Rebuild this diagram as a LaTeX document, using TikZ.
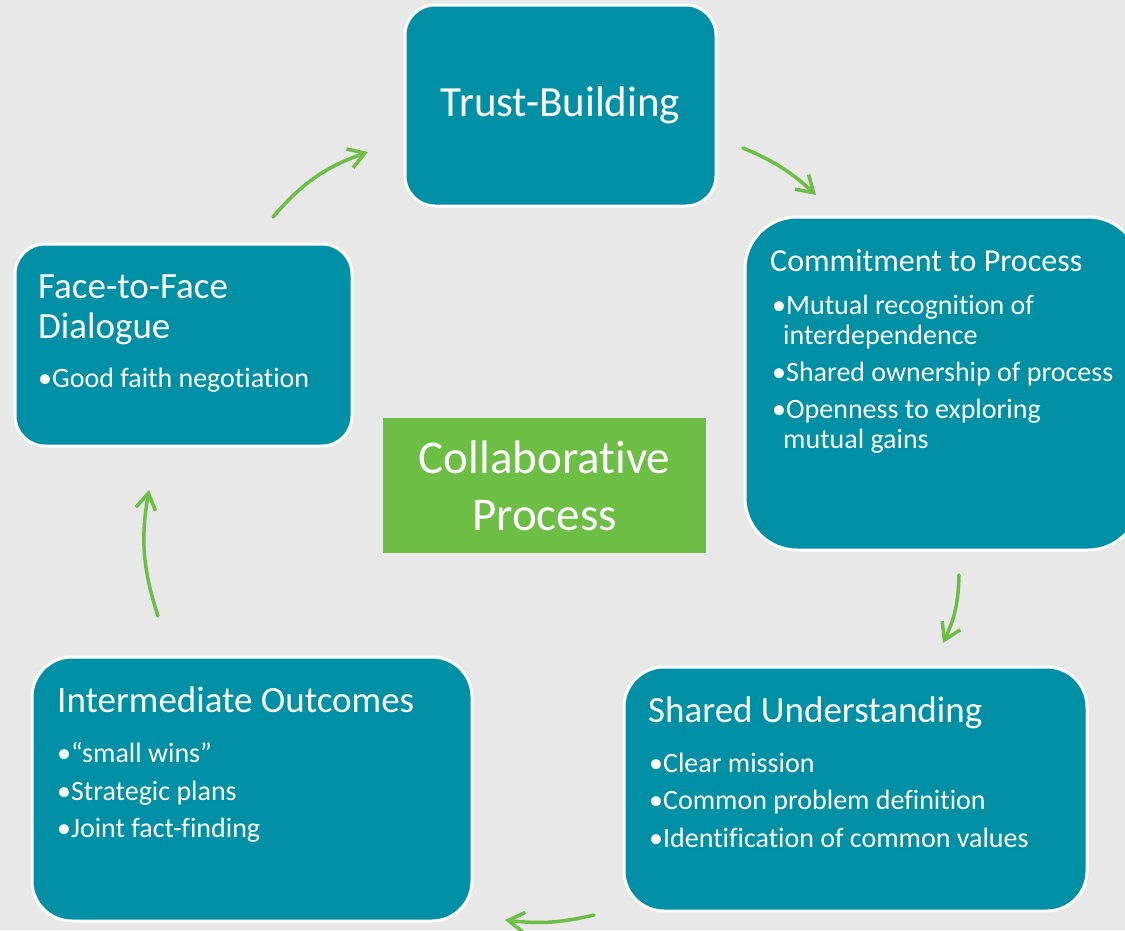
\documentclass[tikz,border=0pt]{standalone}
\usepackage{fontspec}
\setmainfont{Carlito}[Ligatures=NoCommon]
\usetikzlibrary{positioning,calc,arrows.meta}

\definecolor{boxteal}{RGB}{0,144,166}
\definecolor{leafgreen}{RGB}{108,190,69}
\definecolor{slide}{RGB}{232,232,232}

\begin{document}
\begin{tikzpicture}[x=1pt, y=-1pt,
	stage/.style={rectangle, draw=white, line width=3pt, fill=boxteal, text=white, rounded corners=#1},
	stage/.default=30pt,
	head/.style={anchor=base west, text=white, align=left, inner sep=0pt, font=\fontsize{37}{40}\selectfont},
	items/.style={anchor=base west, text=white, align=left, inner sep=0pt, font=\fontsize{28}{30}\selectfont},
	arr/.style={-{Straight Barb[length=16pt,width=20pt]}, line width=3.5pt, leafgreen, line cap=round}]

    \useasboundingbox (0,0) rectangle (1125,930);
    \fill[slide] (0,0) rectangle (1125,930);
    \clip (0,0) rectangle (1125,930);

    % the five stages of the cycle
    \node (trust) at (560.5,105.5) [stage=30pt, minimum width=311pt, minimum height=201pt, font=\fontsize{43}{43}\selectfont] {Trust-Building};
    \node (commit) at (942.5,383.5) [stage=52pt, minimum width=395pt, minimum height=333pt] {};
    \node (shared) at (855.5,789) [stage=40pt, minimum width=463pt, minimum height=244pt] {};
    \node (outcomes) at (252,789) [stage=40pt, minimum width=440pt, minimum height=264pt] {};
    \node (dialogue) at (183.5,345) [stage=30pt, minimum width=337pt, minimum height=202pt] {};

    \node (core) at (544.5,485.5) [fill=leafgreen, text=white, minimum width=323pt, minimum height=135pt, align=center, font=\fontsize{47}{57}\selectfont] {Collaborative\\Process};

    % headings and bullet lists (base = last line)
    \node (commit_head) at (770,271) [head, font=\fontsize{32}{32}\selectfont] {Commitment to Process};
    \node (commit_items) at (772,448) [items] {•Mutual recognition of\\\hspace*{11pt}interdependence\\[7pt]•Shared ownership of process\\[7pt]•Openness to exploring\\\hspace*{11pt}mutual gains};

    \node (shared_head) at (648,722) [head] {Shared Understanding};
    \node (shared_items) at (649,847) [items] {•Clear mission\\[7.5pt]•Common problem definition\\[7.5pt]•Identification of common values};

    \node (outcomes_head) at (57,712) [head] {Intermediate Outcomes};
    \node (outcomes_items) at (57,837) [items] {•“small wins”\\[8pt]•Strategic plans\\[7pt]•Joint fact-finding};

    \node (dialogue_head) at (38,338) [head] {Face-to-Face\\Dialogue};
    \node (dialogue_items) at (38,387) [items] {•Good faith negotiation};

    % arrows between the stages
    \coordinate (dialogue_out) at (273,217);
    \coordinate (trust_in) at (368,152);
    \coordinate (trust_out) at (743,148);
    \coordinate (commit_in) at (816,195);
    \coordinate (commit_out) at (959,575);
    \coordinate (shared_in) at (943,643);
    \coordinate (shared_out) at (594,915);
    \coordinate (outcomes_in) at (505,920);
    \coordinate (outcomes_out) at (158,616);
    \coordinate (dialogue_in) at (149,490);

    \draw [arr] (dialogue_out) to[bend left=15] (trust_in);
    \draw [arr] (trust_out) to[bend left=10] (commit_in);
    \draw [arr] (commit_out) to[bend left=12] (shared_in);
    \draw [arr] (shared_out) to[bend left=10] (outcomes_in);
    \draw [arr] (outcomes_out) to[bend left=14] (dialogue_in);

\end{tikzpicture}
\end{document}
